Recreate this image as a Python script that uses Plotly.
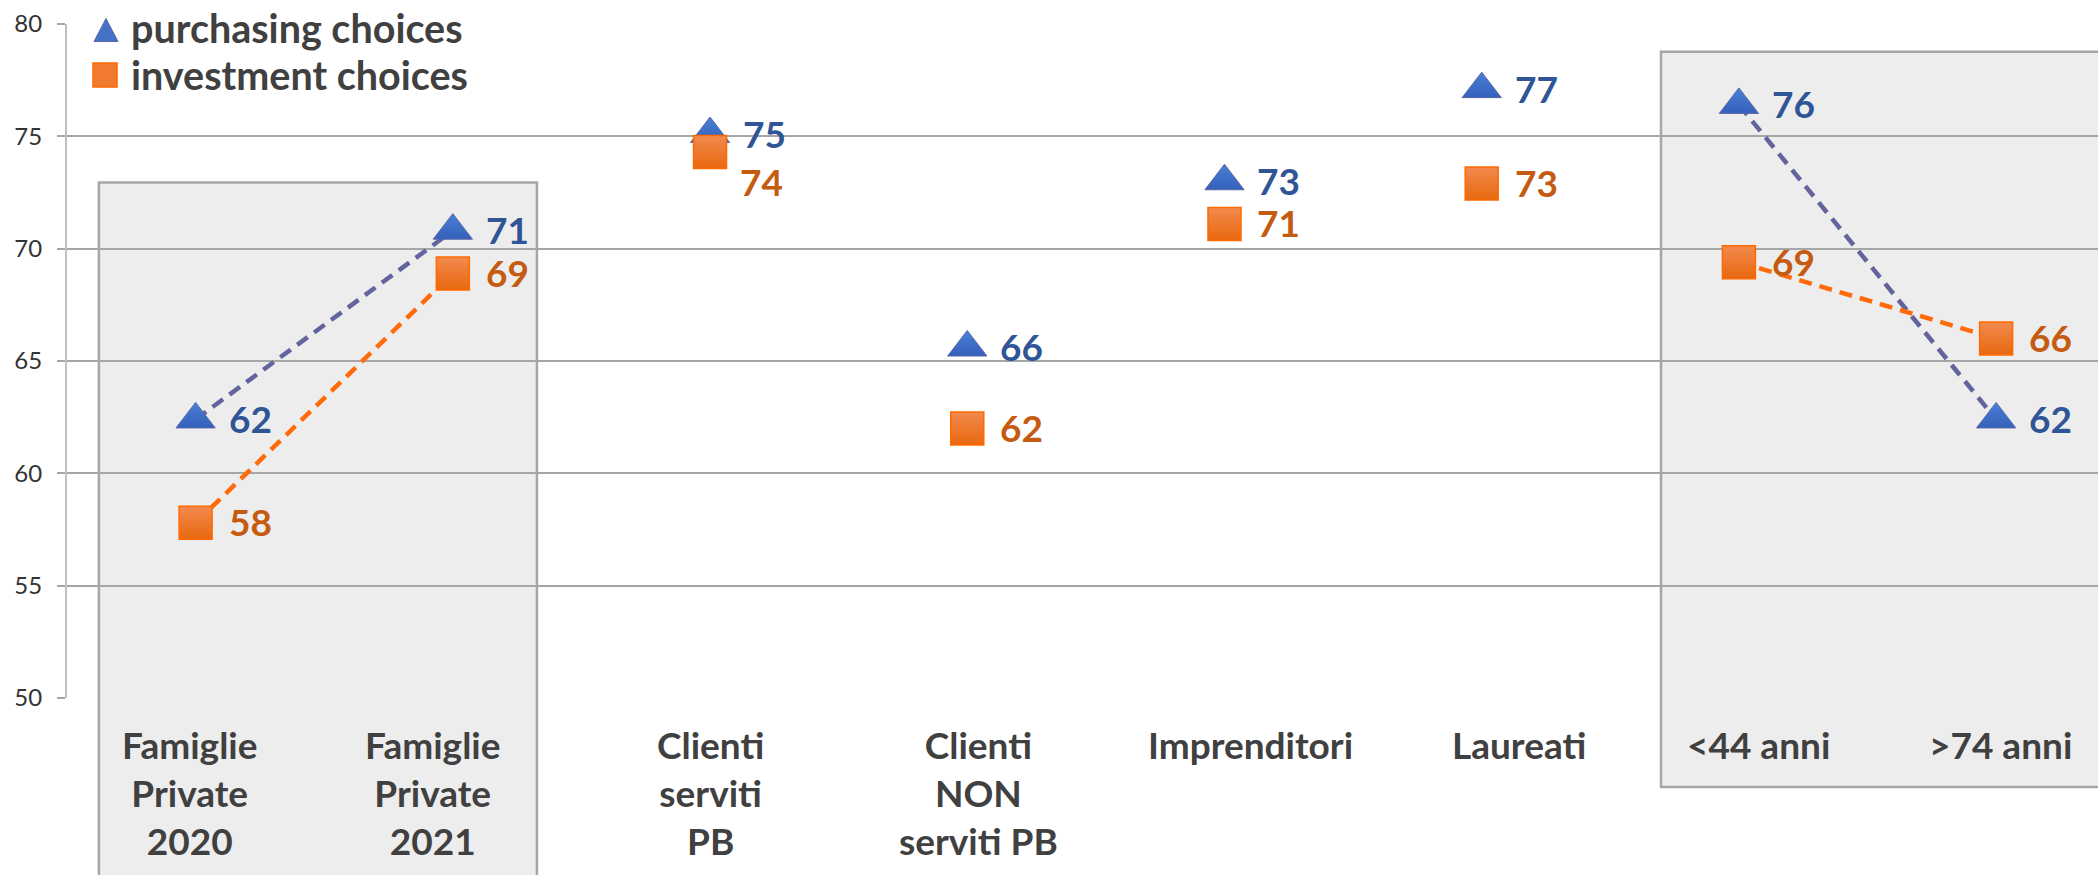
import plotly.graph_objects as go

# ---------------- data ----------------
categories = ["Famiglie<br>Private<br>2020", "Famiglie<br>Private<br>2021",
              "Clienti<br>serviti<br>PB", "Clienti<br>NON<br>serviti PB",
              "Imprenditori", "Laureati", "&lt;44 anni", "&gt;74 anni"]
purchasing = [62.4, 70.8, 75.1, 65.6, 73.0, 77.1, 76.4, 62.4]
investment = [57.8, 68.9, 74.3, 62.0, 71.1, 72.9, 69.4, 66.0]
series_names = ["purchasing choices", "investment choices"]
connected = [(0, 1), (6, 7)]          # pairs joined by dashed lines
y_ticks = [50, 55, 60, 65, 70, 75, 80]

# ---------------- style ----------------
W, H = 2098, 875
ML, MR, MT, MB = 67, 0, 24, 177
XR = [-0.5, 7.396]
YR = [50, 80]
FONT = "Lato"
BLUE, ORANGE = "#4472C4", "#F07B30"
BLUE_TXT, ORANGE_TXT = "#2F5597", "#C55A11"
cat_shift = [-6, -20, 0, 11, 26, 37, 20, 4]        # px shift of category labels
inv_dx = [0, 0, -3, 0, 0, 0, 0, 0]                 # px shift of investment labels
inv_dy = [0, 0, -30, 0, 0, 0, 0, 0]

x_idx = list(range(len(categories)))
PW, PH = W - ML - MR, H - MT - MB


def px_x(v):
    return (v - XR[0]) / (XR[1] - XR[0])


def px_y(v):
    return (v - YR[0]) / (YR[1] - YR[0])


def scr_x(p):   # screen pixel -> paper x
    return (p - ML) / PW


def scr_y(p):   # screen pixel -> paper y
    return 1 + (MT - p) / PH


fig = go.Figure()

# shaded group boxes (paper coordinates computed from axis values)
boxes = [(-0.376, 1.327, 72.94, 41.0), (5.697, 8.5, 78.76, 46.04)]
for x0, x1, ytop, ybot in boxes:
    fig.add_shape(type="rect", xref="paper", yref="paper",
                  x0=px_x(x0), x1=px_x(x1), y0=px_y(ybot), y1=px_y(ytop),
                  fillcolor="#EDEDED", line=dict(color="#A6A6A6", width=2.5),
                  layer="below")


def seg_xy(vals):
    xs, ys = [], []
    for a, b in connected:
        xs += [x_idx[a], x_idx[b], None]
        ys += [vals[a], vals[b], None]
    return xs, ys


# purchasing: line then markers
lx, ly = seg_xy(purchasing)
fig.add_trace(go.Scatter(x=lx, y=ly, mode="lines", showlegend=False, hoverinfo="skip",
                         line=dict(color="#63649E", width=4.5, dash="13px,8px")))
fig.add_trace(go.Scatter(x=x_idx, y=purchasing, mode="markers", name=series_names[0],
                         showlegend=False,
                         marker=dict(symbol="triangle-up", size=34, color="#4A7FD6",
                                     gradient=dict(type="vertical", color="#3460BA"),
                                     line=dict(color="#5A66A8", width=1))))
lx, ly = seg_xy(investment)
fig.add_trace(go.Scatter(x=lx, y=ly, mode="lines", showlegend=False, hoverinfo="skip",
                         line=dict(color="#FF6A0A", width=4.5, dash="13px,8px")))
fig.add_trace(go.Scatter(x=x_idx, y=investment, mode="markers", name=series_names[1],
                         showlegend=False,
                         marker=dict(symbol="square", size=33, color="#F28A4E",
                                     gradient=dict(type="vertical", color="#E8680F"),
                                     line=dict(color="#FF6A00", width=1.5))))

# data labels
for i, v in enumerate(purchasing):
    fig.add_annotation(x=x_idx[i], y=v, xref="x", yref="y", text=f"{v:.0f}",
                       showarrow=False, xanchor="left", yanchor="middle",
                       xshift=31, yshift=1,
                       font=dict(family=FONT, size=37, color=BLUE_TXT, weight="bold"))
for i, v in enumerate(investment):
    fig.add_annotation(x=x_idx[i], y=v, xref="x", yref="y", text=f"{v:.0f}",
                       showarrow=False, xanchor="left", yanchor="middle",
                       xshift=31 + inv_dx[i], yshift=1 + inv_dy[i],
                       font=dict(family=FONT, size=37, color=ORANGE_TXT, weight="bold"))

# category labels
for i, c in enumerate(categories):
    fig.add_annotation(x=x_idx[i], y=0, xref="x", yref="paper", text=c,
                       showarrow=False, xanchor="center", yanchor="top",
                       xshift=cat_shift[i], yshift=-22, align="center",
                       font=dict(family=FONT, size=37, color="#404040", weight="bold"))

# ---------------- legend (drawn in the top-left corner) ----------------
fig.add_shape(type="rect", xref="paper", yref="paper", layer="above",
              x0=scr_x(69), x1=scr_x(486), y0=scr_y(100), y1=scr_y(0),
              fillcolor="white", line=dict(width=0))
tri = [(106, 18.5), (118, 41.5), (94, 41.5)]
fig.add_shape(type="path", xref="paper", yref="paper", layer="above",
              path="M" + " L".join(f"{scr_x(a):.5f},{scr_y(b):.5f}" for a, b in tri) + " Z",
              fillcolor=BLUE, line=dict(color="#5A66A8", width=1))
fig.add_shape(type="rect", xref="paper", yref="paper", layer="above",
              x0=scr_x(93), x1=scr_x(117), y0=scr_y(87), y1=scr_y(63),
              fillcolor=ORANGE, line=dict(color="#FF6A00", width=1.5))
for name, yc in zip(series_names, [28.0, 74.0]):
    fig.add_annotation(xref="paper", yref="paper", x=scr_x(128.5), y=scr_y(yc),
                       text=name, showarrow=False, xanchor="left", yanchor="middle",
                       font=dict(family=FONT, size=39.5, color="#404040", weight="bold"))

fig.update_layout(
    width=W, height=H, margin=dict(l=ML, r=MR, t=MT, b=MB, pad=0, autoexpand=False),
    paper_bgcolor="white", plot_bgcolor="rgba(0,0,0,0)",
    font=dict(family=FONT, color="#333333"),
    showlegend=False,
    xaxis=dict(range=XR, showgrid=False, zeroline=False, showticklabels=False,
               showline=False, fixedrange=True),
    yaxis=dict(range=YR, tickvals=y_ticks, showgrid=True, gridcolor="#A6A6A6",
               gridwidth=1.5, zeroline=False, showline=True, linecolor="#BFBFBF",
               linewidth=2, ticks="outside", ticklen=8, tickcolor="#A6A6A6",
               tickwidth=1.5, tickfont=dict(family=FONT, size=24, color="#333333"),
               ticklabelstandoff=10, fixedrange=True),
)

fig.write_html("out.html", config={"displayModeBar": False},
               post_script="document.body.style.margin='0';")
